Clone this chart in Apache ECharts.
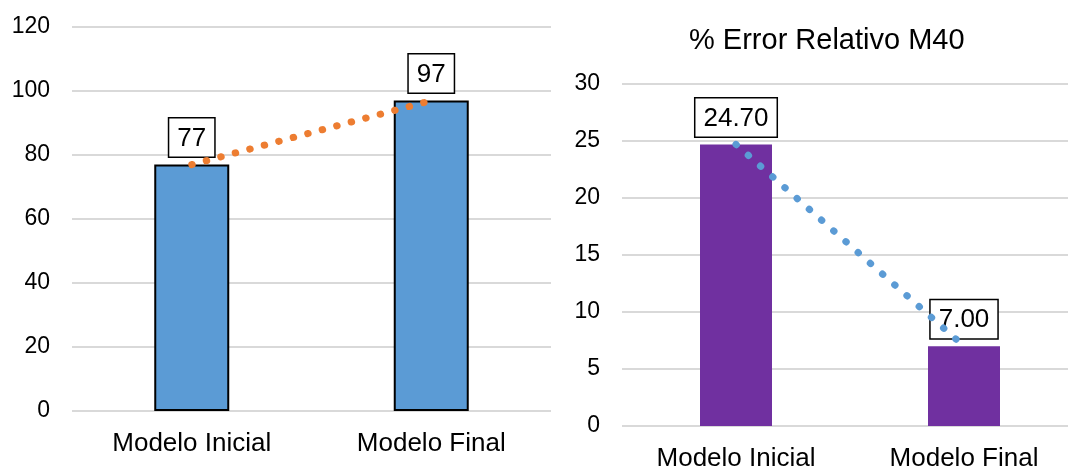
<!DOCTYPE html>
<html>
<head>
<meta charset="utf-8">
<script src="https://cdn.jsdelivr.net/npm/echarts@6/dist/echarts.min.js"></script>
<style>
  html, body { margin: 0; padding: 0; background: #fff; overflow: hidden; }
  #chart { width: 1068px; height: 468px; }
</style>
</head>
<body>
<div id="chart"></div>
<script>
// Categories shared by both panels
const categories = ['Modelo Inicial', 'Modelo Final'];
// Left panel: model score
const modelValues = [77, 97];
const modelAxis = { min: 0, max: 120, interval: 20 };
// Right panel: relative error (%)
const errorTitle = '% Error Relativo M40';
const errorValues = [24.70, 7.00];
const errorAxis = { min: 0, max: 30, interval: 5 };

const FONT = "'Liberation Sans', Arial, sans-serif";
const GRID_LINE = { lineStyle: { color: '#d9d9d9', width: 2 } };

const boxLabel = (fmt) => ({
  show: true,
  position: 'top',
  distance: 8,
  formatter: fmt,
  color: '#000',
  fontFamily: FONT,
  fontSize: 26,
  lineHeight: 28,
  backgroundColor: '#fff',
  borderColor: '#000',
  borderWidth: 1.5,
  padding: [6, 8, 4, 8]
});

const catAxis = (gridIndex) => ({
  type: 'category',
  gridIndex,
  data: categories,
  axisLine: { show: false },
  axisTick: { show: false },
  axisLabel: { color: '#000', fontFamily: FONT, fontSize: 26, margin: 20 }
});

const valAxis = (gridIndex, cfg) => ({
  type: 'value',
  gridIndex,
  min: cfg.min,
  max: cfg.max,
  interval: cfg.interval,
  axisLine: { show: false },
  axisTick: { show: false },
  splitLine: GRID_LINE,
  axisLabel: { color: '#000', fontFamily: FONT, fontSize: 23, margin: 22 }
});

const chart = echarts.init(document.getElementById('chart'), null, { renderer: 'canvas' });
chart.setOption({
  animation: false,
  backgroundColor: '#fff',
  title: {
    text: errorTitle,
    left: 689,
    top: 26,
    padding: 0,
    textStyle: { color: '#000', fontFamily: FONT, fontSize: 29, fontWeight: 'normal' }
  },
  grid: [
    { left: 72, top: 27, width: 479, height: 384, outerBoundsMode: 'none' },
    // the right plot runs past the page edge, so its grid lines reach the border
    { left: 622, top: 84, width: 456, height: 342, outerBoundsMode: 'none' }
  ],
  xAxis: [catAxis(0), catAxis(1)],
  yAxis: [valAxis(0, modelAxis), valAxis(1, errorAxis)],
  series: [
    {
      type: 'bar',
      xAxisIndex: 0, yAxisIndex: 0,
      data: modelValues,
      barWidth: 75,
      z: 2,
      itemStyle: { color: '#5b9bd5', borderColor: '#000', borderWidth: 2 },
      label: boxLabel((p) => String(p.value))
    },
    {
      // linear trend across the two models
      type: 'line',
      xAxisIndex: 0, yAxisIndex: 0,
      data: modelValues,
      symbol: 'none',
      silent: true,
      z: 5,
      lineStyle: { color: '#ed7d31', width: 7, type: [0.5, 14.5], cap: 'round' }
    },
    {
      type: 'bar',
      xAxisIndex: 1, yAxisIndex: 1,
      data: errorValues,
      barWidth: 72,
      z: 2,
      itemStyle: { color: '#7030a0' },
      label: boxLabel((p) => p.value.toFixed(2))
    },
    {
      type: 'line',
      xAxisIndex: 1, yAxisIndex: 1,
      data: errorValues,
      symbol: 'none',
      silent: true,
      z: 5,
      lineStyle: { color: '#5b9bd5', width: 7, type: [0.5, 15.8], cap: 'round' }
    }
  ]
});
</script>
</body>
</html>
